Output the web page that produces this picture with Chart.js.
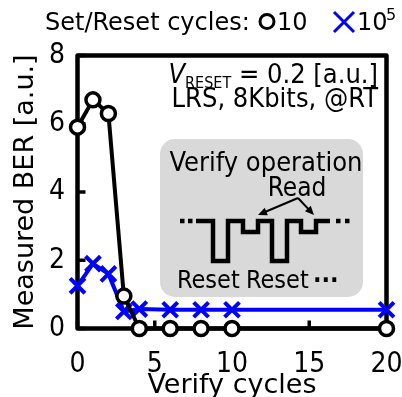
<!DOCTYPE html>
<html>
<head>
<meta charset="utf-8">
<script src="https://cdn.jsdelivr.net/npm/chart.js@4.4.1/dist/chart.umd.min.js"></script>
<style>
  html, body { margin: 0; padding: 0; background: #fff; }
</style>
</head>
<body>
<canvas id="myChart" width="402" height="397"></canvas>
<script>
// data
const verifyCycles = [0, 1, 2, 3, 4, 6, 8, 10, 20];
const ber10 = [5.9, 6.7, 6.3, 0.95, 0, 0, 0, 0, 0];
const ber1e5 = [1.25, 1.9, 1.6, 0.5, 0.57, 0.55, 0.55, 0.55, 0.55];
const xTicks = [0, 5, 10, 15, 20];
const yTicks = [0, 2, 4, 6, 8];

const FONT = '"DejaVu Sans Condensed", "DejaVu Sans", sans-serif';
const FONT_W = '"DejaVu Sans", sans-serif';

function toPoints(ys) {
  return verifyCycles.map((x, i) => ({ x: x, y: ys[i] }));
}

// box, inward ticks, inset and texts
const decor = {
  id: 'decor',
  beforeDatasetsDraw(chart) {
    const ctx = chart.ctx;
    const a = chart.chartArea;
    const xs = chart.scales.x, ys = chart.scales.y;
    ctx.save();
    ctx.strokeStyle = '#000';
    ctx.lineWidth = 4.5;
    ctx.lineJoin = 'round';
    ctx.strokeRect(a.left, a.top, a.right - a.left, a.bottom - a.top);

    ctx.lineWidth = 3.5;
    xTicks.forEach(v => {
      const px = xs.getPixelForValue(v);
      ctx.beginPath();
      ctx.moveTo(px, a.bottom);
      ctx.lineTo(px, a.bottom - 8);
      ctx.stroke();
    });
    yTicks.forEach(v => {
      const py = ys.getPixelForValue(v);
      ctx.beginPath();
      ctx.moveTo(a.left, py);
      ctx.lineTo(a.left + 8, py);
      ctx.stroke();
    });

    // inset box
    const bx = 160, by = 139, bw = 203, bh = 158, r = 15;
    ctx.fillStyle = '#d9d9d9';
    ctx.beginPath();
    ctx.moveTo(bx + r, by);
    ctx.arcTo(bx + bw, by, bx + bw, by + bh, r);
    ctx.arcTo(bx + bw, by + bh, bx, by + bh, r);
    ctx.arcTo(bx, by + bh, bx, by, r);
    ctx.arcTo(bx, by, bx + bw, by, r);
    ctx.closePath();
    ctx.fill();

    ctx.fillStyle = '#000';
    ctx.textBaseline = 'alphabetic';
    ctx.font = '27px ' + FONT;
    ctx.textAlign = 'center';
    ctx.fillText('Verify operation', 266, 171);
    ctx.font = '26px ' + FONT;
    ctx.fillText('Read', 297, 196);
    ctx.font = '25px ' + FONT;
    ctx.textAlign = 'left';
    ctx.fillText('Reset', 177, 288);
    ctx.fillText('Reset', 246, 288);
    ctx.font = 'bold 25px ' + FONT;
    ctx.fillText('\u00b7\u00b7\u00b7', 313, 288);

    // waveform
    const T = 221, D = 261, R = 232;
    const wave = [[196, T], [213, T], [213, D], [228, D], [228, T], [243, T], [243, R], [258, R], [258, T],
                  [272, T], [272, D], [287, D], [287, T], [301, T], [301, R], [316, R], [316, T], [330, T]];
    ctx.lineWidth = 4.5;
    ctx.lineJoin = 'miter';
    ctx.beginPath();
    wave.forEach((p, i) => i ? ctx.lineTo(p[0], p[1]) : ctx.moveTo(p[0], p[1]));
    ctx.stroke();
    [180, 188, 336, 345].forEach(dx => ctx.fillRect(dx, T - 2.25, 4.5, 4.5));

    // arrows
    ctx.lineWidth = 2;
    [[258, 215], [314, 215]].forEach(t => {
      const sx = 298, sy = 198;
      const ang = Math.atan2(t[1] - sy, t[0] - sx);
      ctx.beginPath();
      ctx.moveTo(sx, sy);
      ctx.lineTo(t[0] - 5 * Math.cos(ang), t[1] - 5 * Math.sin(ang));
      ctx.stroke();
      ctx.beginPath();
      ctx.moveTo(t[0], t[1]);
      ctx.lineTo(t[0] - 9 * Math.cos(ang) + 4 * Math.sin(ang), t[1] - 9 * Math.sin(ang) - 4 * Math.cos(ang));
      ctx.lineTo(t[0] - 9 * Math.cos(ang) - 4 * Math.sin(ang), t[1] - 9 * Math.sin(ang) + 4 * Math.cos(ang));
      ctx.closePath();
      ctx.fill();
    });
    ctx.restore();
  },
  afterDraw(chart) {
    const ctx = chart.ctx;
    ctx.save();
    ctx.fillStyle = '#000';
    ctx.textBaseline = 'alphabetic';

    // legend on top
    ctx.font = '24px ' + FONT_W;
    ctx.textAlign = 'left';
    ctx.fillText('Set/Reset cycles:', 45, 30);
    ctx.lineWidth = 3;
    ctx.strokeStyle = '#000';
    ctx.beginPath();
    ctx.arc(267, 21.5, 7, 0, Math.PI * 2);
    ctx.stroke();
    ctx.fillText('10', 277, 30);
    ctx.strokeStyle = '#0000ff';
    ctx.lineWidth = 3;
    ctx.beginPath();
    ctx.moveTo(334, 12); ctx.lineTo(354, 32);
    ctx.moveTo(354, 12); ctx.lineTo(334, 32);
    ctx.stroke();
    ctx.fillText('10', 357, 30);
    ctx.font = '16px ' + FONT_W;
    ctx.fillText('5', 386, 20);

    // condition text, right aligned
    ctx.textAlign = 'right';
    ctx.font = '27px ' + FONT;
    const rest = ' = 0.2 [a.u.]';
    ctx.fillText(rest, 378, 83);
    let x = 378 - ctx.measureText(rest).width;
    ctx.font = '16px ' + FONT;
    ctx.fillText('RESET', x, 88);
    x -= ctx.measureText('RESET').width;
    ctx.font = 'italic 27px ' + FONT;
    ctx.fillText('V', x, 83);
    ctx.font = '27px ' + FONT;
    ctx.fillText('LRS, 8Kbits, @RT', 378, 107);
    ctx.restore();
  }
};

const ctx = document.getElementById('myChart').getContext('2d');

const chart = new Chart(ctx, {
  type: 'scatter',
  data: {
    datasets: [{
      label: '10',
      data: toPoints(ber10),
      showLine: true,
      borderColor: '#000',
      borderWidth: 4,
      pointStyle: 'circle',
      pointRadius: 7,
      pointBorderWidth: 3.5,
      pointBackgroundColor: '#fff',
      pointBorderColor: '#000',
      clip: false
    }, {
      label: '10^5',
      data: toPoints(ber1e5),
      showLine: true,
      borderColor: '#0000ff',
      borderWidth: 4,
      pointStyle: 'crossRot',
      pointRadius: 10.5,
      pointBorderWidth: 4,
      pointBorderColor: '#0000ff',
      clip: false
    }]
  },
  options: {
    responsive: false,
    animation: false,
    layout: { padding: { left: 0, right: 15.5, top: 55.5, bottom: 0 } },
    plugins: {
      legend: { display: false },
      tooltip: { enabled: false }
    },
    scales: {
      x: {
        type: 'linear',
        min: 0,
        max: 20,
        afterBuildTicks: s => { s.ticks = xTicks.map(v => ({ value: v })); },
        afterFit: s => { s.height = 68.5; s.paddingLeft = 0; s.paddingRight = 0; },
        grid: { display: false, drawTicks: false },
        border: { display: false },
        ticks: { color: '#000', font: { family: FONT, size: 28, lineHeight: 1 }, padding: 22, maxRotation: 0 },
        title: { display: true, text: 'Verify cycles', color: '#000', font: { family: FONT_W, size: 27, lineHeight: 1 }, padding: { top: 0, bottom: -2 } }
      },
      y: {
        min: 0,
        max: 8,
        afterBuildTicks: s => { s.ticks = yTicks.map(v => ({ value: v })); },
        afterFit: s => { s.width = 77.5; s.paddingTop = 0; s.paddingBottom = 0; },
        grid: { display: false, drawTicks: false },
        border: { display: false },
        ticks: { color: '#000', font: { family: FONT, size: 28, lineHeight: 1 }, padding: 12.5 },
        title: { display: true, text: 'Measured BER [a.u.]', color: '#000', font: { family: FONT_W, size: 27, lineHeight: 1 }, padding: { top: 12, bottom: 0 } }
      }
    }
  },
  plugins: [decor]
});
</script>
</body>
</html>
